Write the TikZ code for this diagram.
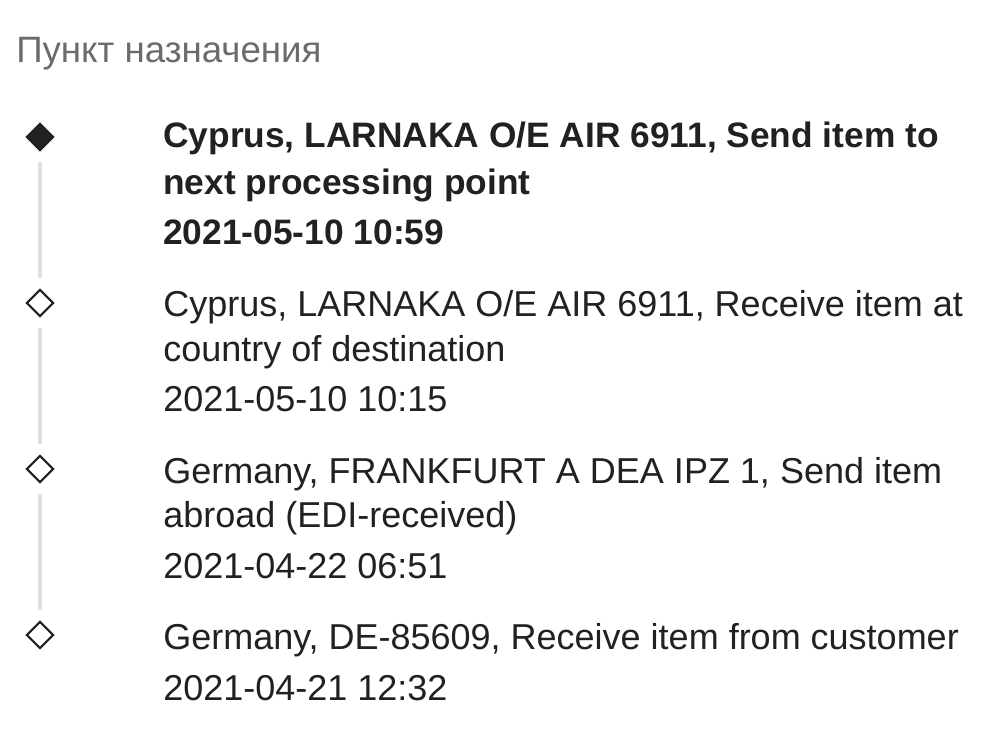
\documentclass[tikz,border=0pt]{standalone}
\usepackage{fontspec}
\setmainfont{Liberation Sans}
\usetikzlibrary{shapes.geometric}
\definecolor{txtc}{HTML}{212121}
\definecolor{hdrc}{HTML}{6B6B6B}
\definecolor{railc}{HTML}{E0E0E0}
\tikzset{
  stopmark/.style={diamond,draw=txtc,line width=1.6pt,fill=white,inner sep=0pt,
    minimum width=20.5pt,minimum height=20.5pt},
  lastmark/.style={stopmark,fill=txtc},
  rail/.style={railc,line width=3.6pt,shorten >=8pt,shorten <=8pt},
  line/.style={anchor=base west,inner sep=0pt,text=txtc,font=\fontsize{27}{32}\selectfont},
  bline/.style={line,font=\fontsize{26.5}{32}\selectfont\bfseries},
}
\begin{document}
\begin{tikzpicture}[x=0.75pt,y=-0.75pt]
\useasboundingbox (0,0) rectangle (1001,743);
\node[anchor=base west,inner sep=0pt,text=hdrc,font=\fontsize{27.5}{32}\selectfont] (title) at (16,62) {Пункт назначения};
% stops
\node[lastmark] (d1) at (40,137) {};
\node[stopmark] (d2) at (40,303) {};
\node[stopmark] (d3) at (40,469) {};
\node[stopmark] (d4) at (40,635) {};
\draw[rail] (d1) -- (d2);
\draw[rail] (d2) -- (d3);
\draw[rail] (d3) -- (d4);
% texts
\node[bline] (t1a) at (163,147) {Cyprus, LARNAKA O/E AIR 6911, Send item to};
\node[bline] (t1b) at (163,194) {next processing point};
\node[bline] (t1c) at (163,244) {2021-05-10 10:59};
\node[line] (t2a) at (163,316) {Cyprus, LARNAKA O/E AIR 6911, Receive item at};
\node[line] (t2b) at (163,361) {country of destination};
\node[line] (t2c) at (163,411) {2021-05-10 10:15};
\node[line] (t3a) at (163,483) {Germany, FRANKFURT A DEA IPZ 1, Send item};
\node[line] (t3b) at (163,527) {abroad (EDI-received)};
\node[line] (t3c) at (163,578) {2021-04-22 06:51};
\node[line] (t4a) at (163,649) {Germany, DE-85609, Receive item from customer};
\node[line] (t4b) at (163,700) {2021-04-21 12:32};
\end{tikzpicture}
\end{document}
